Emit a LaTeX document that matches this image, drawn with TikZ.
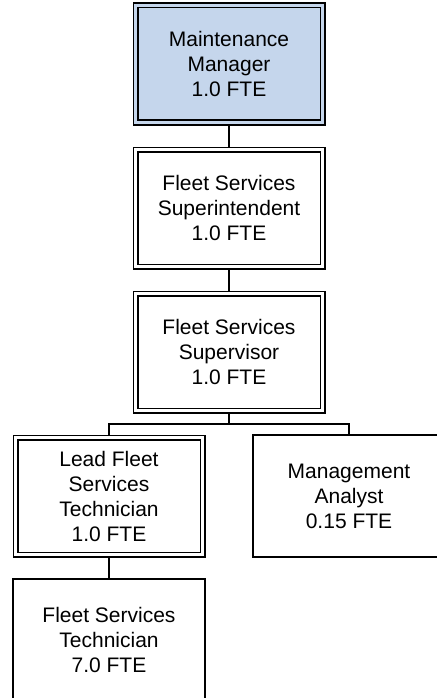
\documentclass[tikz,border=0pt]{standalone}
\usepackage{fontspec}
\setmainfont{Liberation Sans}
\usetikzlibrary{backgrounds}
\definecolor{mgrblue}{RGB}{197,214,236}
\begin{document}
\begin{tikzpicture}[x=1pt,y=-1pt,
  txt/.style={align=center, font=\fontsize{21}{25}\selectfont, inner sep=0pt},
  box/.style={txt, draw, line width=1.5pt, minimum width=192pt, minimum height=122pt},
  dbox/.style={txt, draw, line width=1.4pt, double=white, double distance=3.2pt, minimum width=187pt, minimum height=117pt},
  link/.style={line width=1.5pt}]
\useasboundingbox (0,0) rectangle (436,698);
\node[dbox, fill=mgrblue, double=mgrblue] (mm) at (229,64) {Maintenance\\Manager\\1.0 FTE};
\node[dbox] (sup) at (229,208) {Fleet Services\\Superintendent\\1.0 FTE};
\node[dbox] (svr) at (229,352) {Fleet Services\\Supervisor\\1.0 FTE};
\node[dbox] (lead) at (109,496) {Lead Fleet\\Services\\Technician\\1.0 FTE};
\node[box] (ma) at (349,496) {Management\\Analyst\\0.15 FTE};
\node[box] (tech) at (109,640) {Fleet Services\\Technician\\7.0 FTE};
\coordinate (j) at (229,424);
\begin{scope}[on background layer]
\draw[link] (mm.south) -- (sup.north);
\draw[link] (sup.south) -- (svr.north);
\draw[link] (svr.south) -- (j);
\draw[link] (lead.north) |- (j) -| (ma.north);
\draw[link] (lead.south) -- (tech.north);
\end{scope}
\end{tikzpicture}
\end{document}
